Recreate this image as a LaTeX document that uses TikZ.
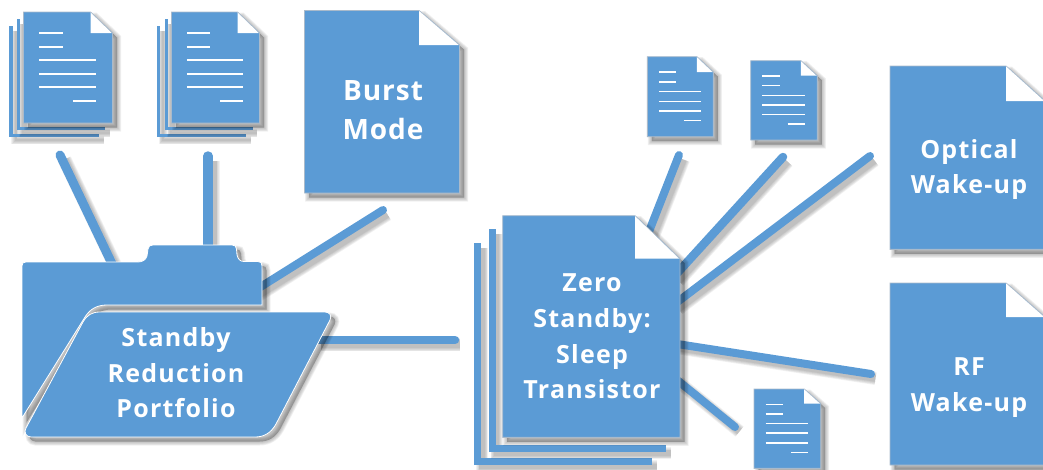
\documentclass[tikz,border=0pt]{standalone}
\usepackage{fontspec}
\setmainfont{Open Sans}
\newfontfamily\bigfont[LetterSpace=3.5]{Open Sans}
\newfontfamily\midfont[LetterSpace=5]{Open Sans}
\usetikzlibrary{backgrounds}
\definecolor{pageblue}{HTML}{5B9BD5}
\definecolor{pageedge}{HTML}{A9BACB}
\tikzset{
  blur/.style={draw=black,opacity=.055,line width=#1,transform canvas={shift={(4.5pt,-4.5pt)}}},
  softshadow/.style={
    preaction={blur=8pt,fill=black},
    preaction={blur=6.5pt,fill=black},
    preaction={blur=5pt,fill=black},
    preaction={blur=3pt,fill=black},
    preaction={blur=1pt,fill=black}},
  lineshadow/.style={
    preaction={blur=#1+5pt},
    preaction={blur=#1+3.5pt},
    preaction={blur=#1+2pt},
    preaction={blur=#1},
    preaction={blur=#1-1.5pt}},
  pagebody/.style={fill=pageblue,draw=pageedge,line width=.9pt,softshadow},
  pageear/.style={fill=white,draw=none},
  foldfill/.style={fill=pageblue,draw=white,line width=.8pt,softshadow},
  sheet/.style={draw=pageblue,line width=#1,lineshadow=#1},
  textline/.style={draw=white,line width=#1},
  link/.style={draw=pageblue,line width=#1,line cap=round,lineshadow=#1},
  pagebox/.style={inner sep=0pt,outer sep=0pt},
  bigtext/.style={text=white,align=center,inner sep=0pt,font=\bigfont\bfseries\fontsize{28}{39.5}\selectfont},
  midtext/.style={text=white,align=center,inner sep=0pt,font=\midfont\bfseries\fontsize{25}{35.7}\selectfont}
}
\begin{document}
\begin{tikzpicture}[x=1pt,y=-1pt]
\useasboundingbox (0,0) rectangle (1043,469);
\foreach \xa/\ya/\xb/\yb/\w in {11.2/26/99/135.5/3.5,18.7/19/105/128.5/3.5,158.5/26/246/135.5/3.5,166.5/19/252.7/128.5/3.5,477.5/243.3/652/461.8/7,492/229.3/666/448.5/7}
  \path[sheet=\w pt] (\xa,\ya) -- (\xa,\yb) -- (\xb,\yb);
\foreach \nm/\xa/\ya/\xb/\yb/\ex/\ey in {
  burst/304.5/10.5/459.5/193/40.5/34.5,
  zero/502.7/215.7/680/437.3/45/43,
  optical/890/66/1045/249.3/39/35,
  rf/890/283/1045/465/39/34,
  stackA/23.5/12/112.5/123/22/21,
  stackB/171.5/12/259.5/123/22/21,
  docA/647.3/56.7/713.3/136.7/16.5/15.3,
  docB/750.7/60.7/817.3/140/16.5/15,
  docC/754/389/820.7/468.3/16.5/14.5}
{
  \path[pagebody] (\xa,\ya) -- (\xb-\ex,\ya) -- (\xb,\ya+\ey) -- (\xb,\yb) -- (\xa,\yb) -- cycle;
  \path[pageear] (\xb-\ex,\ya+.4) -- (\xb-.8,\ya+\ey) -- (\xb-\ex,\ya+\ey) -- cycle;
  \node[pagebox,minimum width=\xb pt-\xa pt,minimum height=\yb pt-\ya pt] (\nm) at ({(\xa+\xb)/2},{(\ya+\yb)/2}) {};
}
\foreach \xa/\ya/\xb/\yb/\w in {23.5/12/112.5/123/1.9,171.5/12/259.5/123/1.9,647.3/56.7/713.3/136.7/1.5,750.7/60.7/817.3/140/1.5,754/389/820.7/468.3/1.5}
{
  \foreach \i in {0,...,5}
  {
    \pgfmathsetmacro{\ly}{\ya+(\yb-\ya)*(.193+.1215*\i)}
    \pgfmathsetmacro{\lstart}{\xa+(\xb-\xa)*(\i==5?.555:.175)}
    \pgfmathsetmacro{\lend}{\xa+(\xb-\xa)*(\i<2?.44:.815)}
    \draw[textline=\w pt] (\lstart,\ly) -- (\lend,\ly);
  }
}
\path[foldfill] (22,418) -- (22,266) .. controls (22,263) and (23,262) .. (26,262) -- (138,262) .. controls (142,262) and (146,260) .. (147,256) -- (148,249) .. controls (148.5,246) and (150,245) .. (153,245) -- (232,245) .. controls (235,245) and (236,246) .. (236.5,249) -- (237,255) .. controls (238,259) and (240,261.5) .. (244,261.5) -- (258,261.5) .. controls (261,261.5) and (262,263) .. (262,266) -- (262,305) -- (107,305) .. controls (97,305) and (90,309) .. (85,317) -- cycle;
\path[foldfill] (100,312) -- (325,312) .. controls (330,312) and (332,316) .. (330,320) -- (276,424) .. controls (271,433) and (264,437) .. (255,437) -- (31,437) .. controls (26,437) and (23.5,432) .. (26,428) -- (83,322) .. controls (87,315) and (92,312) .. (100,312) -- cycle;
\node[pagebox,minimum width=240pt,minimum height=173pt] (folderBack) at (142,331.5) {};
\node[pagebox,minimum width=306pt,minimum height=125pt] (folderFront) at (178,374.5) {};
\node[bigtext] (burstText) at (383,110) {Burst\\Mode};
\node[midtext] (folderText) at (176,372.7) {Standby\\Reduction\\Portfolio};
\node[midtext] (zeroText) at (592,336.5) {Zero\\Standby:\\Sleep\\Transistor};
\node[midtext] (opticalText) at (969,169.5) {Optical\\Wake-up};
\node[midtext] (rfText) at (969,387.5) {RF\\Wake-up};
\coordinate (stackAEnd) at (60,155);
\coordinate (stackBEnd) at (208,156);
\coordinate (burstEnd) at (383,210);
\coordinate (zeroEnd) at (455,340);
\coordinate (docAEnd) at (679,155);
\coordinate (docBEnd) at (783,157);
\coordinate (opticalEnd) at (870,156);
\coordinate (rfEnd) at (871,374);
\coordinate (docCEnd) at (735,427);
\begin{scope}[on background layer]
\path[link=9pt] ([xshift=-27pt,yshift=-25pt]folderBack.north) -- (stackAEnd);
\path[link=9.5pt] ([xshift=66pt,yshift=-10pt]folderBack.north) -- (stackBEnd);
\path[link=8pt] ([xshift=-8pt,yshift=40.5pt]folderBack.east) -- (burstEnd);
\path[link=8.5pt] ([xshift=-15pt,yshift=34.5pt]folderFront.east) -- (zeroEnd);
\path[link=8pt] ([xshift=56pt,yshift=-20pt]zero.north) -- (docAEnd);
\path[link=8.5pt] ([xshift=-6pt,yshift=50pt]zero.east) -- (docBEnd);
\path[link=8pt] ([xshift=-6pt,yshift=22pt]zero.east) -- (opticalEnd);
\path[link=8pt] ([xshift=-6pt,yshift=-17pt]zero.east) -- (rfEnd);
\path[link=8pt] ([xshift=-6pt,yshift=-51pt]zero.east) -- (docCEnd);
\end{scope}
\end{tikzpicture}
\end{document}
